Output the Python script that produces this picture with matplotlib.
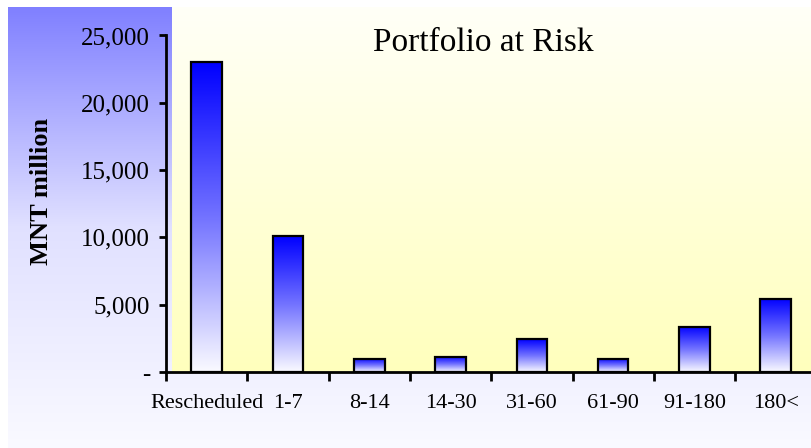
import numpy as np
import matplotlib
matplotlib.use("Agg")
import matplotlib.pyplot as plt
from matplotlib.colors import LinearSegmentedColormap
from matplotlib.ticker import FuncFormatter, FixedLocator

# Portfolio at risk by days overdue (MNT million)
categories = ["Rescheduled", "1-7", "8-14", "14-30", "31-60", "61-90", "91-180", "180<"]
values = [23000, 10080, 990, 1140, 2430, 990, 3370, 5450]
yticks = [0, 5000, 10000, 15000, 20000, 25000]

W, H = 811, 448
fig = plt.figure(figsize=(W / 100, H / 100), dpi=100)
fig.patch.set_facecolor("white")

def fx(px):
    return px / W

def fy(py):
    return 1 - py / H

# Lavender background panel
bg = fig.add_axes([fx(8), 0, 1 - fx(8), fy(7)], zorder=0)
grad = np.linspace(0, 1, 256).reshape(-1, 1)
bg_cmap = LinearSegmentedColormap.from_list("bg", [(0.50, 0.50, 1.0), (0.88, 0.88, 1.0), (0.98, 0.98, 1.0)])
bg.imshow(grad, aspect="auto", cmap=bg_cmap, extent=[0, 1, 0, 1], origin="upper")
bg.axis("off")

# Pale yellow plotting panel
yp = fig.add_axes([fx(172), fy(372), 1 - fx(172), fy(7) - fy(372)], zorder=1)
y_cmap = LinearSegmentedColormap.from_list("yl", [(1.0, 1.0, 0.97), (1.0, 1.0, 0.74)])
yp.imshow(grad, aspect="auto", cmap=y_cmap, extent=[0, 1, 0, 1], origin="upper")
yp.axis("off")

# Data axes
n = len(categories)
cat_w = 81.3
ax = fig.add_axes([fx(166), fy(372), n * cat_w / W, fy(35.5) - fy(372)], zorder=2)
ax.patch.set_alpha(0)
ax.set_xlim(-0.5, n - 0.5)
ax.set_ylim(0, 25000)

bar_cmap = LinearSegmentedColormap.from_list("bar", [(0.0, 0.0, 1.0), (0.45, 0.45, 1.0), (0.98, 0.98, 1.0)])
bw = 0.376
x = np.arange(n)
bars = ax.bar(x, values, width=bw, color="none", edgecolor="black", linewidth=1.6, zorder=4)
for b in bars:
    x0, y0 = b.get_x(), b.get_y()
    w, h = b.get_width(), b.get_height()
    im = ax.imshow(grad, aspect="auto", cmap=bar_cmap, extent=[x0, x0 + w, y0, y0 + h],
                   origin="upper", zorder=3)
    im.set_clip_path(b)
ax.set_xlim(-0.5, n - 0.5)
ax.set_ylim(0, 25000)

serif = ["Liberation Serif", "DejaVu Serif"]

for s in ["top", "right"]:
    ax.spines[s].set_visible(False)
for s in ["left", "bottom"]:
    ax.spines[s].set_linewidth(2)
    ax.spines[s].set_color("black")

ax.yaxis.set_major_locator(FixedLocator(yticks))
ax.yaxis.set_major_formatter(FuncFormatter(lambda v, p: "-" if v == 0 else f"{int(v):,}"))
ax.tick_params(axis="y", direction="out", length=5, width=2, pad=6.5, labelsize=18)

ax.set_xticks(np.arange(n + 1) - 0.5)
ax.set_xticklabels([])
ax.set_xticks(x, minor=True)
ax.set_xticklabels(categories, minor=True)
ax.tick_params(axis="x", which="major", direction="out", length=6.5, width=2)
ax.tick_params(axis="x", which="minor", length=0, pad=16, labelsize=16)

for lbl in ax.get_yticklabels() + ax.get_xticklabels(minor=True):
    lbl.set_family(serif)

fig.text(fx(42), fy(191), "MNT million", rotation=90, ha="center", va="center",
         fontsize=19, fontweight="bold", family=serif)
fig.text(fx(483), fy(43), "Portfolio at Risk", ha="center", va="center",
         fontsize=24, family=serif)

fig.savefig("out.png", dpi=100, facecolor=fig.get_facecolor())
